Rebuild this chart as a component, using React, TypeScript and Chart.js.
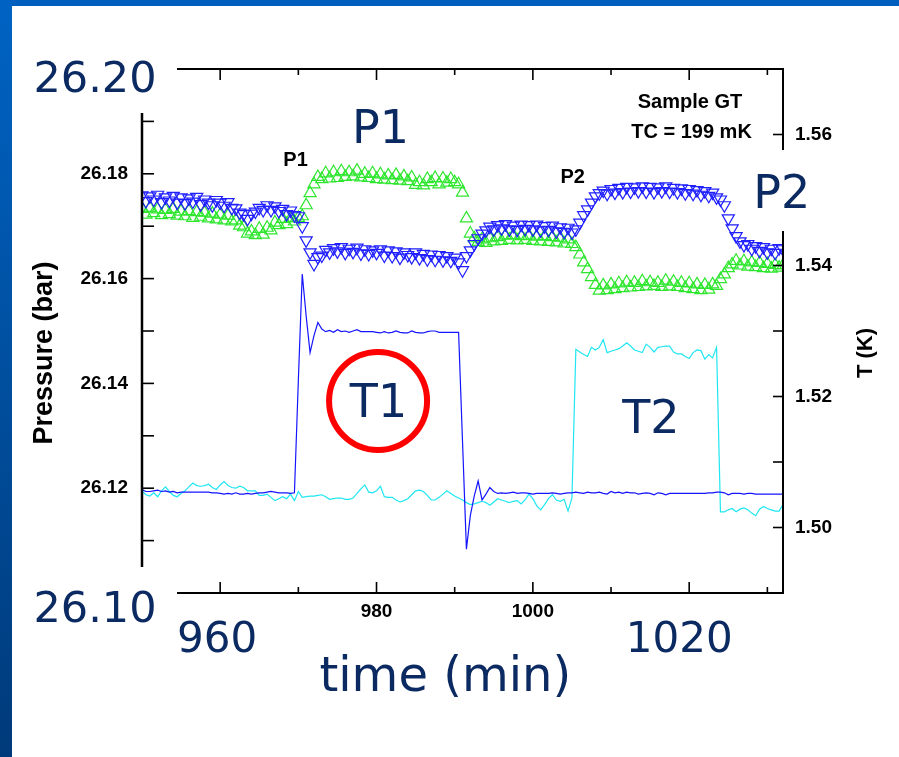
import React, { useEffect, useRef } from 'react';
import { Chart, registerables } from 'chart.js';
Chart.register(...registerables);

// time (min), sampled every half minute
const time = [
  950, 950.5, 951, 951.5, 952, 952.5, 953, 953.5, 954, 954.5,
  955, 955.5, 956, 956.5, 957, 957.5, 958, 958.5, 959, 959.5,
  960, 960.5, 961, 961.5, 962, 962.5, 963, 963.5, 964, 964.5,
  965, 965.5, 966, 966.5, 967, 967.5, 968, 968.5, 969, 969.5,
  970, 970.5, 971, 971.5, 972, 972.5, 973, 973.5, 974, 974.5,
  975, 975.5, 976, 976.5, 977, 977.5, 978, 978.5, 979, 979.5,
  980, 980.5, 981, 981.5, 982, 982.5, 983, 983.5, 984, 984.5,
  985, 985.5, 986, 986.5, 987, 987.5, 988, 988.5, 989, 989.5,
  990, 990.5, 991, 991.5, 992, 992.5, 993, 993.5, 994, 994.5,
  995, 995.5, 996, 996.5, 997, 997.5, 998, 998.5, 999, 999.5,
  1000, 1000.5, 1001, 1001.5, 1002, 1002.5, 1003, 1003.5, 1004, 1004.5,
  1005, 1005.5, 1006, 1006.5, 1007, 1007.5, 1008, 1008.5, 1009, 1009.5,
  1010, 1010.5, 1011, 1011.5, 1012, 1012.5, 1013, 1013.5, 1014, 1014.5,
  1015, 1015.5, 1016, 1016.5, 1017, 1017.5, 1018, 1018.5, 1019, 1019.5,
  1020, 1020.5, 1021, 1021.5, 1022, 1022.5, 1023, 1023.5, 1024, 1024.5,
  1025, 1025.5, 1026, 1026.5, 1027, 1027.5, 1028, 1028.5, 1029, 1029.5,
  1030, 1030.5, 1031, 1031.5, 1032,
];

// pressure (bar), blue down-triangles
const pressureBlue = [
  26.1759, 26.1748, 26.1757, 26.1751, 26.1760, 26.1746, 26.1755, 26.1749, 26.1758, 26.1745,
  26.1755, 26.1744, 26.1753, 26.1747, 26.1756, 26.1742, 26.1751, 26.1745, 26.1740, 26.1750,
  26.1745, 26.1739, 26.1746, 26.1735, 26.1734, 26.1726, 26.1723, 26.1714, 26.1724, 26.1728,
  26.1735, 26.1731, 26.1740, 26.1731, 26.1738, 26.1729, 26.1733, 26.1723, 26.1730, 26.1721,
  26.1719, 26.1700, 26.1673, 26.1650, 26.1628, 26.1641, 26.1644, 26.1655, 26.1650, 26.1658,
  26.1652, 26.1660, 26.1649, 26.1657, 26.1651, 26.1659, 26.1648, 26.1656, 26.1647, 26.1654,
  26.1649, 26.1656, 26.1644, 26.1654, 26.1643, 26.1652, 26.1640, 26.1650, 26.1645, 26.1641,
  26.1650, 26.1639, 26.1647, 26.1637, 26.1646, 26.1636, 26.1645, 26.1635, 26.1643, 26.1634,
  26.1640, 26.1631, 26.1616, 26.1643, 26.1654, 26.1666, 26.1677, 26.1686, 26.1692, 26.1699,
  26.1694, 26.1702, 26.1696, 26.1704, 26.1694, 26.1701, 26.1693, 26.1703, 26.1695, 26.1702,
  26.1694, 26.1703, 26.1692, 26.1700, 26.1693, 26.1701, 26.1690, 26.1698, 26.1689, 26.1697,
  26.1688, 26.1694, 26.1707, 26.1721, 26.1732, 26.1745, 26.1757, 26.1763, 26.1768, 26.1762,
  26.1771, 26.1764, 26.1773, 26.1765, 26.1775, 26.1766, 26.1774, 26.1767, 26.1776, 26.1766,
  26.1775, 26.1765, 26.1774, 26.1767, 26.1776, 26.1766, 26.1773, 26.1765, 26.1772, 26.1763,
  26.1771, 26.1762, 26.1769, 26.1760, 26.1767, 26.1758, 26.1764, 26.1755, 26.1751, 26.1740,
  26.1715, 26.1696, 26.1681, 26.1671, 26.1664, 26.1666, 26.1657, 26.1662, 26.1653, 26.1660,
  26.1650, 26.1657, 26.1649, 26.1658, 26.1656,
];

// pressure (bar), green up-triangles
const pressureGreen = [
  26.1733, 26.1722, 26.1735, 26.1725, 26.1732, 26.1721, 26.1731, 26.1723, 26.1733, 26.1720,
  26.1728, 26.1719, 26.1729, 26.1716, 26.1727, 26.1718, 26.1726, 26.1715, 26.1724, 26.1713,
  26.1722, 26.1711, 26.1720, 26.1709, 26.1711, 26.1701, 26.1698, 26.1686, 26.1690, 26.1683,
  26.1695, 26.1684, 26.1697, 26.1692, 26.1707, 26.1702, 26.1714, 26.1704, 26.1715, 26.1709,
  26.1716, 26.1719, 26.1740, 26.1763, 26.1780, 26.1794, 26.1790, 26.1801, 26.1791, 26.1803,
  26.1792, 26.1805, 26.1794, 26.1803, 26.1795, 26.1806, 26.1793, 26.1800, 26.1792, 26.1801,
  26.1790, 26.1799, 26.1789, 26.1797, 26.1788, 26.1798, 26.1787, 26.1795, 26.1786, 26.1793,
  26.1779, 26.1784, 26.1778, 26.1790, 26.1784, 26.1792, 26.1780, 26.1791, 26.1783, 26.1790,
  26.1784, 26.1780, 26.1764, 26.1715, 26.1686, 26.1677, 26.1670, 26.1675, 26.1668, 26.1677,
  26.1671, 26.1679, 26.1672, 26.1682, 26.1674, 26.1683, 26.1673, 26.1681, 26.1674, 26.1682,
  26.1672, 26.1680, 26.1671, 26.1681, 26.1670, 26.1679, 26.1669, 26.1678, 26.1667, 26.1675,
  26.1666, 26.1660, 26.1646, 26.1631, 26.1618, 26.1603, 26.1588, 26.1577, 26.1587, 26.1578,
  26.1589, 26.1580, 26.1591, 26.1582, 26.1593, 26.1583, 26.1592, 26.1584, 26.1595, 26.1585,
  26.1593, 26.1586, 26.1592, 26.1584, 26.1596, 26.1585, 26.1594, 26.1584, 26.1592, 26.1582,
  26.1591, 26.1580, 26.1589, 26.1578, 26.1588, 26.1579, 26.1589, 26.1586, 26.1599, 26.1608,
  26.1620, 26.1627, 26.1634, 26.1625, 26.1633, 26.1623, 26.1631, 26.1622, 26.1630, 26.1620,
  26.1628, 26.1619, 26.1626, 26.1621, 26.1625,
];

// temperature T1 (K), blue line
const tempT1 = [
  1.5058, 1.5055, 1.5055, 1.5056, 1.5057, 1.5055, 1.5056, 1.5054, 1.5055, 1.5053,
  1.5054, 1.5054, 1.5054, 1.5054, 1.5054, 1.5054, 1.5054, 1.5054, 1.5053, 1.5053,
  1.5052, 1.5051, 1.5052, 1.5051, 1.5053, 1.5051, 1.5051, 1.5052, 1.5051, 1.5052,
  1.5053, 1.5053, 1.5054, 1.5055, 1.5054, 1.5053, 1.5053, 1.5053, 1.5052, 1.5053,
  1.5224, 1.5387, 1.5323, 1.5267, 1.5293, 1.5313, 1.5303, 1.5299, 1.5301, 1.5298,
  1.5302, 1.5299, 1.5300, 1.5298, 1.5300, 1.5302, 1.5299, 1.5299, 1.5299, 1.5299,
  1.5298, 1.5297, 1.5299, 1.5297, 1.5298, 1.5300, 1.5298, 1.5297, 1.5297, 1.5300,
  1.5298, 1.5297, 1.5297, 1.5299, 1.5300, 1.5300, 1.5298, 1.5298, 1.5298, 1.5298,
  1.5298, 1.5298, 1.5132, 1.4967, 1.5018, 1.5048, 1.5071, 1.5042, 1.5051, 1.5061,
  1.5055, 1.5052, 1.5053, 1.5052, 1.5053, 1.5054, 1.5052, 1.5053, 1.5053, 1.5052,
  1.5051, 1.5052, 1.5052, 1.5052, 1.5052, 1.5053, 1.5052, 1.5051, 1.5052, 1.5053,
  1.5053, 1.5054, 1.5053, 1.5052, 1.5054, 1.5053, 1.5053, 1.5054, 1.5052, 1.5051,
  1.5055, 1.5053, 1.5054, 1.5052, 1.5054, 1.5053, 1.5053, 1.5051, 1.5052, 1.5053,
  1.5052, 1.5050, 1.5053, 1.5052, 1.5050, 1.5052, 1.5052, 1.5052, 1.5052, 1.5052,
  1.5052, 1.5052, 1.5052, 1.5052, 1.5052, 1.5053, 1.5053, 1.5054, 1.5054, 1.5053,
  1.5050, 1.5052, 1.5052, 1.5052, 1.5051, 1.5052, 1.5052, 1.5051, 1.5051, 1.5051,
  1.5051, 1.5051, 1.5051, 1.5051, 1.5051,
];

// temperature T2 (K), cyan line
const tempT2 = [
  1.5056, 1.5050, 1.5048, 1.5053, 1.5047, 1.5056, 1.5062, 1.5055, 1.5049, 1.5047,
  1.5052, 1.5056, 1.5062, 1.5068, 1.5064, 1.5063, 1.5064, 1.5066, 1.5061, 1.5058,
  1.5065, 1.5070, 1.5064, 1.5061, 1.5060, 1.5063, 1.5061, 1.5056, 1.5056, 1.5056,
  1.5049, 1.5049, 1.5051, 1.5046, 1.5041, 1.5044, 1.5047, 1.5044, 1.5051, 1.5041,
  1.5055, 1.5046, 1.5047, 1.5048, 1.5048, 1.5049, 1.5050, 1.5047, 1.5043, 1.5044,
  1.5045, 1.5045, 1.5043, 1.5043, 1.5045, 1.5052, 1.5059, 1.5065, 1.5054, 1.5053,
  1.5056, 1.5063, 1.5047, 1.5046, 1.5046, 1.5042, 1.5039, 1.5041, 1.5044, 1.5050,
  1.5056, 1.5057, 1.5055, 1.5049, 1.5042, 1.5042, 1.5046, 1.5051, 1.5056, 1.5052,
  1.5048, 1.5045, 1.5042, 1.5038, 1.5035, 1.5036, 1.5038, 1.5040, 1.5038, 1.5034,
  1.5039, 1.5044, 1.5042, 1.5040, 1.5038, 1.5040, 1.5041, 1.5036, 1.5042, 1.5051,
  1.5044, 1.5033, 1.5027, 1.5035, 1.5044, 1.5050, 1.5042, 1.5040, 1.5043, 1.5025,
  1.5045, 1.5272, 1.5268, 1.5264, 1.5261, 1.5275, 1.5271, 1.5275, 1.5287, 1.5267,
  1.5269, 1.5271, 1.5273, 1.5277, 1.5282, 1.5277, 1.5271, 1.5269, 1.5267, 1.5280,
  1.5275, 1.5268, 1.5275, 1.5276, 1.5277, 1.5277, 1.5268, 1.5265, 1.5265, 1.5261,
  1.5258, 1.5267, 1.5271, 1.5270, 1.5257, 1.5264, 1.5259, 1.5275, 1.5024, 1.5024,
  1.5027, 1.5029, 1.5024, 1.5028, 1.5030, 1.5027, 1.5022, 1.5018, 1.5028, 1.5032,
  1.5029, 1.5027, 1.5025, 1.5025, 1.5035,
];

// axes
const timeRange = [950, 1032];
const pressureRange = [26.10, 26.20];
const tempRange = [1.49, 1.57];
const timeTickLabels = [980, 1000];
const timeBigLabels = [960, 1020];
const timeMajorTicks = [960, 980, 1000, 1020];
const timeMinorTicks = [970, 990, 1010, 1030];
const pressureTickLabels = [26.12, 26.14, 26.16, 26.18];
const pressureAllTicks = [26.11, 26.12, 26.13, 26.14, 26.15, 26.16, 26.17, 26.18, 26.19];
const pressureBigLabels = [26.20, 26.10];
const tempTickLabels = [1.50, 1.52, 1.54, 1.56];
const tempAllTicks = [1.50, 1.51, 1.52, 1.53, 1.54, 1.55, 1.56];

const NAVY = '#0c2a62';
const BIG_FONT = "'DejaVu Sans', Verdana, sans-serif";
const BOLD_FONT = "'Liberation Sans', Arial, Helvetica, sans-serif";

const pts = (xs: number[], ys: number[]) => xs.map((x, i) => ({ x, y: ys[i] }));

const overlay = {
  id: 'overlay',
  afterDraw(chart: any) {
    const { ctx, chartArea: a, scales } = chart;
    const sx = scales.x, sp = scales.yP, st = scales.yT;
    ctx.save();
    const line = (x1: number, y1: number, x2: number, y2: number) => {
      ctx.beginPath(); ctx.moveTo(x1, y1); ctx.lineTo(x2, y2); ctx.stroke();
    };
    // frame
    ctx.strokeStyle = '#000';
    ctx.lineWidth = 2;
    ctx.strokeRect(a.left, a.top, a.right - a.left, a.bottom - a.top);
    ctx.lineWidth = 2.5;
    line(a.left, a.top, a.left, a.bottom);
    // inward ticks
    ctx.lineWidth = 1.6;
    pressureAllTicks.forEach((v) => { const y = sp.getPixelForValue(v); line(a.left, y, a.left + 12, y); });
    tempAllTicks.forEach((v) => { const y = st.getPixelForValue(v); line(a.right, y, a.right - 10, y); });
    timeMajorTicks.forEach((v) => {
      const x = sx.getPixelForValue(v);
      line(x, a.bottom, x, a.bottom - 11); line(x, a.top, x, a.top + 11);
    });
    timeMinorTicks.forEach((v) => {
      const x = sx.getPixelForValue(v);
      line(x, a.bottom, x, a.bottom - 6); line(x, a.top, x, a.top + 6);
    });

    // white masks of the slide labels
    ctx.fillStyle = '#ffffff';
    ctx.fillRect(20, 28, a.left + 35 - 20, a.top + 44 - 28);
    ctx.fillRect(20, a.bottom - 26, a.left + 35 - 20, 80);
    ctx.fillRect(748, 150, 100, 81);

    const text = (s: string, x: number, y: number, font: string, color: string, align = 'center', rot = 0, base = 'alphabetic') => {
      ctx.save();
      ctx.translate(x, y);
      ctx.rotate(rot);
      ctx.font = font;
      ctx.fillStyle = color;
      ctx.textAlign = align;
      ctx.textBaseline = base;
      ctx.fillText(s, 0, 0);
      ctx.restore();
    };

    // big slide labels
    const bigAxis = `43px ${BIG_FONT}`;
    text(pressureBigLabels[0].toFixed(2), a.left - 47, sp.getPixelForValue(pressureBigLabels[0]) + 23, bigAxis, NAVY);
    text(pressureBigLabels[1].toFixed(2), a.left - 47, sp.getPixelForValue(pressureBigLabels[1]) + 29, bigAxis, NAVY);
    text(String(timeBigLabels[0]), sx.getPixelForValue(timeBigLabels[0]) - 3, a.bottom + 59, `42px ${BIG_FONT}`, NAVY);
    text(String(timeBigLabels[1]), sx.getPixelForValue(timeBigLabels[1]) - 10, a.bottom + 59, `42px ${BIG_FONT}`, NAVY);
    text('time (min)', sx.getPixelForValue(988.8), a.bottom + 98, `48px ${BIG_FONT}`, NAVY);

    const big = `46px ${BIG_FONT}`;
    text('P1', sx.getPixelForValue(980.5), sp.getPixelForValue(26.1858), big, NAVY);
    text('P2', sx.getPixelForValue(1028.2), sp.getPixelForValue(26.1734), big, NAVY, 'left');
    text('T1', sx.getPixelForValue(980.25), st.getPixelForValue(1.5169), big, NAVY);
    text('T2', sx.getPixelForValue(1015.1), st.getPixelForValue(1.5145), big, NAVY);

    // red circle around T1
    ctx.strokeStyle = '#ff0000';
    ctx.lineWidth = 6;
    ctx.beginPath();
    ctx.arc(sx.getPixelForValue(980.2), st.getPixelForValue(1.5193), 49, 0, Math.PI * 2);
    ctx.stroke();

    // small bold annotations
    const small = `bold 20px ${BOLD_FONT}`;
    text('P1', sx.getPixelForValue(969.65), sp.getPixelForValue(26.1814), small, '#000');
    text('P2', sx.getPixelForValue(1005.1), sp.getPixelForValue(26.1782), small, '#000');
    text('Sample GT', sx.getPixelForValue(1020.1), sp.getPixelForValue(26.1925), small, '#000');
    text('TC = 199 mK', sx.getPixelForValue(1020.3), sp.getPixelForValue(26.1869), small, '#000');

    // axis titles
    const midY = (a.top + a.bottom) / 2 + 22;
    text('Pressure (bar)', 45, midY, `bold 27px ${BOLD_FONT}`, '#000', 'center', -Math.PI / 2, 'middle');
    text('T (K)', 866, midY, `bold 22px ${BOLD_FONT}`, '#000', 'center', -Math.PI / 2, 'middle');
    ctx.restore();
  },
};

const tickFont = { family: BOLD_FONT, size: 19, weight: 'bold' as const };
const noGrid = { display: false, drawTicks: false };

export default function App() {
  const ref = useRef<HTMLCanvasElement>(null);
  useEffect(() => {
    if (!ref.current) return;
    const chart = new Chart(ref.current, {
      type: 'scatter',
      data: {
        datasets: [
          {
            label: 'Pressure (blue)',
            data: pts(time, pressureBlue),
            yAxisID: 'yP',
            showLine: false,
            pointStyle: 'triangle',
            pointRotation: 180,
            pointRadius: 7,
            pointBorderWidth: 1.2,
            borderColor: '#1f1fff',
            backgroundColor: 'rgba(0,0,0,0)',
          },
          {
            label: 'Pressure (green)',
            data: pts(time, pressureGreen),
            yAxisID: 'yP',
            showLine: false,
            pointStyle: 'triangle',
            pointRotation: 0,
            pointRadius: 7,
            pointBorderWidth: 1.2,
            borderColor: '#2fe62f',
            backgroundColor: 'rgba(0,0,0,0)',
          },
          {
            label: 'T1',
            data: pts(time, tempT1),
            yAxisID: 'yT',
            showLine: true,
            pointRadius: 0,
            borderColor: '#1414ff',
            borderWidth: 1.2,
            backgroundColor: '#1414ff',
          },
          {
            label: 'T2',
            data: pts(time, tempT2),
            yAxisID: 'yT',
            showLine: true,
            pointRadius: 0,
            borderColor: '#1ee6f2',
            borderWidth: 1.2,
            backgroundColor: '#1ee6f2',
          },
        ],
      },
      options: {
        responsive: false,
        animation: false,
        devicePixelRatio: 1,
        layout: { padding: { top: 69, left: 0, right: 0, bottom: 0 } },
        plugins: { legend: { display: false }, tooltip: { enabled: false } },
        scales: {
          x: {
            type: 'linear',
            position: 'bottom',
            min: timeRange[0],
            max: timeRange[1],
            grid: noGrid,
            border: { display: false },
            afterFit: (s: any) => { s.height = 164; },
            afterBuildTicks: (s: any) => { s.ticks = timeTickLabels.map((v) => ({ value: v })); },
            ticks: { font: tickFont, color: '#000', padding: 7, autoSkip: false, maxRotation: 0, callback: (v: any) => String(v) },
          },
          yP: {
            type: 'linear',
            position: 'left',
            min: pressureRange[0],
            max: pressureRange[1],
            grid: noGrid,
            border: { display: false },
            afterFit: (s: any) => { s.width = 142; },
            afterBuildTicks: (s: any) => { s.ticks = pressureTickLabels.map((v) => ({ value: v })); },
            ticks: { font: tickFont, color: '#000', padding: 14, callback: (v: any) => Number(v).toFixed(2) },
          },
          yT: {
            type: 'linear',
            position: 'right',
            min: tempRange[0],
            max: tempRange[1],
            grid: noGrid,
            border: { display: false },
            afterFit: (s: any) => { s.width = 116; },
            afterBuildTicks: (s: any) => { s.ticks = tempTickLabels.map((v) => ({ value: v })); },
            ticks: { font: tickFont, color: '#000', padding: 12, callback: (v: any) => Number(v).toFixed(2) },
          },
        },
      },
      plugins: [overlay],
    } as any);
    return () => chart.destroy();
  }, []);

  return (
    <div style={{ position: 'fixed', left: 0, top: 0, width: 899, height: 757, background: '#ffffff', overflow: 'hidden' }}>
      <div style={{ position: 'absolute', left: 0, top: 0, width: 899, height: 6, background: '#005fbe' }} />
      <div style={{ position: 'absolute', left: 0, top: 0, width: 12, height: 757, background: 'linear-gradient(#0063c3, #003a7a)' }} />
      <canvas ref={ref} width={899} height={757} style={{ position: 'absolute', left: 0, top: 0 }} />
    </div>
  );
}
